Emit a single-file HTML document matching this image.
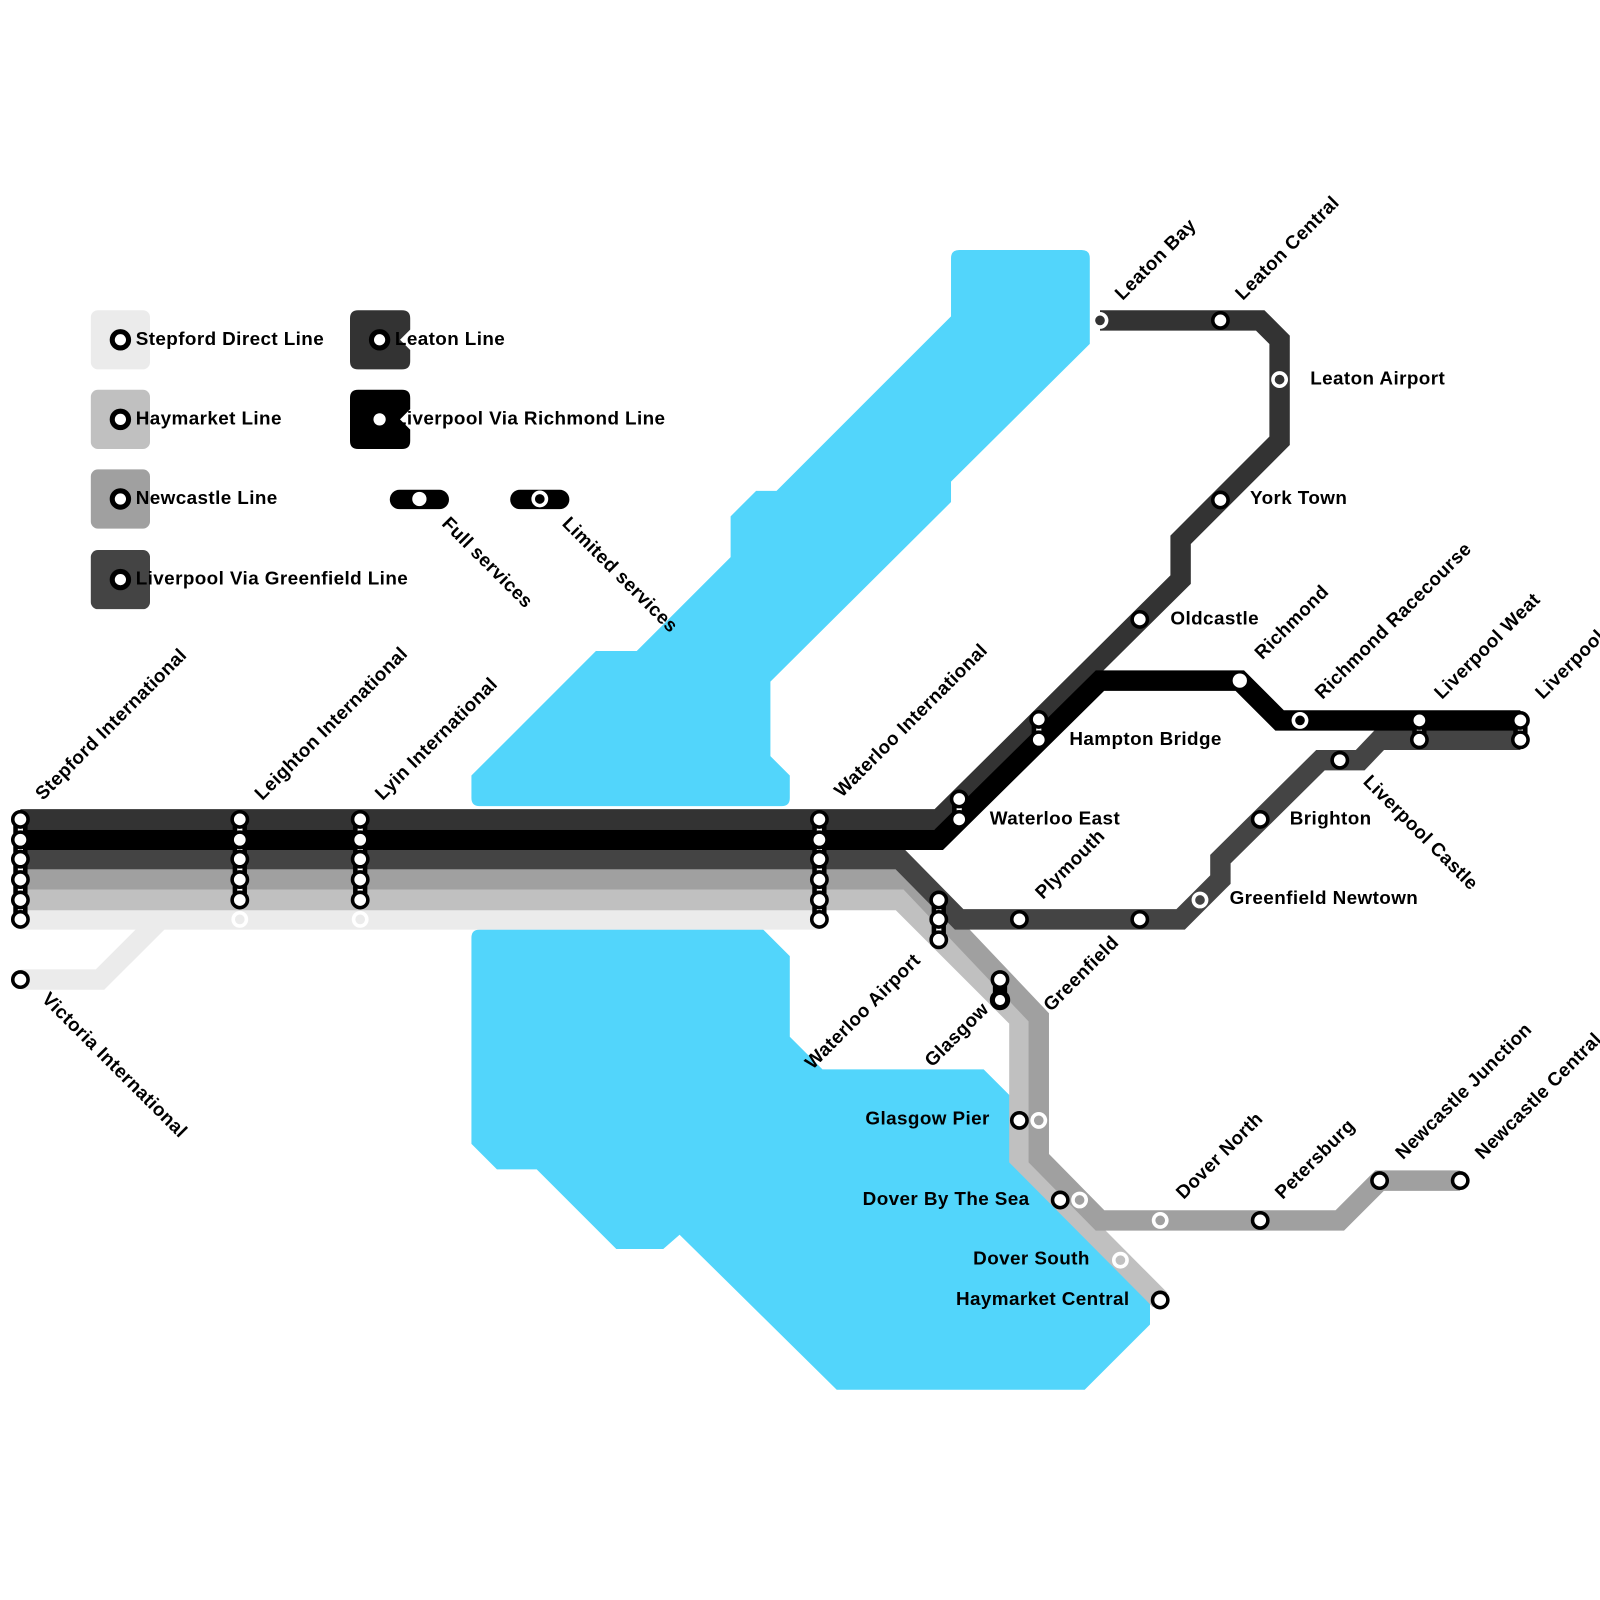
<!DOCTYPE html>
<html><head><meta charset="utf-8"><style>
html,body{margin:0;padding:0;background:#fff;}
svg{display:block;}
text{font-family:"Liberation Sans",sans-serif;font-weight:bold;font-size:18.5px;letter-spacing:0.4px;fill:#000;}
</style></head><body>
<svg width="1600" height="1600" viewBox="0 0 1568 1568" xmlns="http://www.w3.org/2000/svg">
<g fill="#52d5fb">
<path d="M940,245 H1060 Q1068,245 1068,253 V337 L932,472 V492 L755,668 V741 L774,760 V782 Q774,790 766,790 H470 Q462,790 462,782 V760 L584,638 H624 L716,546 V506 L741,481 H761 L932,310 V253 Q932,245 940,245 Z"/>
<path d="M470,911 H748 L774,937 V1016 L806,1048 H964 L990,1074 V1135 L1127,1274 V1298 L1063,1362 H820 L666,1210 L650,1224 H604 L526,1146 H487 L462,1121 V919 Q462,911 470,911 Z"/>
</g>
<g fill="none" stroke-width="20" stroke-linejoin="miter">
<path d="M157,901 L98,960 H20" stroke="#ebebeb"/>
<path d="M20,901 H803" stroke="#ebebeb"/>
<path d="M20,882 H882 L999,999 V1135 L1137,1274" stroke="#c0c0c0"/>
<path d="M20,862 H890 L1018,997 V1135 L1078,1196 H1313 L1352,1157 H1431" stroke="#a0a0a0"/>
<path d="M20,842 H882 L940,901 H1157 L1196,862 V842 L1294,745 H1333 L1352,725 H1490" stroke="#444"/>
<path d="M20,803 H920 L1157,568 V529 L1254,432 V333 L1235,314 H1078" stroke="#333"/>
<path d="M20,823 H920 L1078,667 H1215 L1254,706 H1490" stroke="#000"/>
</g>
<g stroke="#000" stroke-width="14" stroke-linecap="round">
<line x1="20" y1="803" x2="20" y2="901"/><line x1="235" y1="803" x2="235" y2="882"/><line x1="353" y1="803" x2="353" y2="882"/><line x1="803" y1="803" x2="803" y2="901"/>
<line x1="920" y1="882" x2="920" y2="921"/><line x1="940" y1="783" x2="940" y2="803"/><line x1="1018" y1="705" x2="1018" y2="725"/><line x1="1391" y1="706" x2="1391" y2="725"/><line x1="1490" y1="706" x2="1490" y2="725"/><line x1="980" y1="960" x2="980" y2="980"/>
</g>
<g stroke="#fff" stroke-width="5">
<line x1="20" y1="803" x2="20" y2="901"/><line x1="235" y1="803" x2="235" y2="882"/><line x1="353" y1="803" x2="353" y2="882"/><line x1="803" y1="803" x2="803" y2="901"/>
<line x1="920" y1="882" x2="920" y2="921"/><line x1="940" y1="783" x2="940" y2="803"/><line x1="1018" y1="705" x2="1018" y2="725"/><line x1="1391" y1="706" x2="1391" y2="725"/><line x1="1490" y1="706" x2="1490" y2="725"/>
</g>
<g fill="#fff" stroke="#000" stroke-width="3.5">
<circle cx="20" cy="803" r="7.5"/><circle cx="20" cy="823" r="7.5"/><circle cx="20" cy="842" r="7.5"/><circle cx="20" cy="862" r="7.5"/><circle cx="20" cy="882" r="7.5"/><circle cx="20" cy="901" r="7.5"/><circle cx="20" cy="960" r="7.5"/>
<circle cx="235" cy="803" r="7.5"/><circle cx="235" cy="823" r="7.5"/><circle cx="235" cy="842" r="7.5"/><circle cx="235" cy="862" r="7.5"/><circle cx="235" cy="882" r="7.5"/>
<circle cx="353" cy="803" r="7.5"/><circle cx="353" cy="823" r="7.5"/><circle cx="353" cy="842" r="7.5"/><circle cx="353" cy="862" r="7.5"/><circle cx="353" cy="882" r="7.5"/>
<circle cx="803" cy="803" r="7.5"/><circle cx="803" cy="823" r="7.5"/><circle cx="803" cy="842" r="7.5"/><circle cx="803" cy="862" r="7.5"/><circle cx="803" cy="882" r="7.5"/><circle cx="803" cy="901" r="7.5"/>
<circle cx="920" cy="882" r="7.5"/><circle cx="920" cy="901" r="7.5"/><circle cx="920" cy="921" r="7.5"/>
<circle cx="940" cy="783" r="7.5"/><circle cx="940" cy="803" r="7.5"/>
<circle cx="1018" cy="705" r="7.5"/><circle cx="1018" cy="725" r="7.5"/>
<circle cx="999" cy="901" r="7.5"/><circle cx="1117" cy="901" r="7.5"/>
<circle cx="980" cy="960" r="7.5"/><circle cx="980" cy="980" r="7.5" stroke-width="5"/>
<circle cx="999" cy="1098" r="7.5"/><circle cx="1039" cy="1176" r="7.5"/><circle cx="1137" cy="1274" r="7.5"/>
<circle cx="1235" cy="1196" r="7.5"/><circle cx="1352" cy="1157" r="7.5"/><circle cx="1431" cy="1157" r="7.5"/>
<circle cx="1196" cy="314" r="7.5"/><circle cx="1196" cy="490" r="7.5"/><circle cx="1117" cy="607" r="7.5"/>
<circle cx="1235" cy="803" r="7.5"/><circle cx="1313" cy="745" r="7.5"/>
<circle cx="1391" cy="706" r="7.5"/><circle cx="1391" cy="725" r="7.5"/><circle cx="1490" cy="706" r="7.5"/><circle cx="1490" cy="725" r="7.5"/>
</g>
<circle cx="1215" cy="667" r="7" fill="#fff"/>
<g stroke="#fff" stroke-width="3.5">
<circle cx="235" cy="901" r="6.5" fill="#ebebeb"/><circle cx="353" cy="901" r="6.5" fill="#ebebeb"/>
<circle cx="1078" cy="314" r="6.5" fill="#333"/><circle cx="1254" cy="372" r="6.5" fill="#333"/>
<circle cx="1274" cy="706" r="6.5" fill="#000"/><circle cx="1176" cy="882" r="6.5" fill="#444"/>
<circle cx="1018" cy="1098" r="6.5" fill="#a0a0a0"/><circle cx="1058" cy="1176" r="6.5" fill="#a0a0a0"/><circle cx="1137" cy="1196" r="6.5" fill="#a0a0a0"/><circle cx="1098" cy="1235" r="6.5" fill="#c0c0c0"/>
</g>
<rect x="89" y="304" width="58" height="58" rx="7" fill="#ebebeb"/>
<rect x="89" y="382" width="58" height="58" rx="7" fill="#c0c0c0"/>
<rect x="89" y="460" width="58" height="58" rx="7" fill="#a0a0a0"/>
<rect x="89" y="539" width="58" height="58" rx="7" fill="#444"/>
<path d="M351,304 H394 Q402,304 402,312 V323 L392,333 L402,343 V354 Q402,362 394,362 H351 Q343,362 343,354 V312 Q343,304 351,304 Z" fill="#333"/>
<path d="M351,382 H394 Q402,382 402,390 V401 L392,411 L402,421 V432 Q402,440 394,440 H351 Q343,440 343,432 V390 Q343,382 351,382 Z" fill="#000"/>
<g fill="#fff" stroke="#000" stroke-width="5">
<circle cx="118" cy="333" r="8"/><circle cx="118" cy="411" r="8"/><circle cx="118" cy="489" r="8"/><circle cx="118" cy="568" r="8"/><circle cx="372" cy="333" r="8"/>
</g>
<circle cx="372" cy="411" r="6" fill="#fff"/>
<rect x="382" y="480" width="58" height="19" rx="9.5" fill="#000"/><circle cx="411" cy="489" r="7" fill="#fff"/>
<rect x="500" y="480" width="58" height="19" rx="9.5" fill="#000"/><circle cx="529" cy="489" r="6.5" fill="#000" stroke="#fff" stroke-width="3.5"/>
<text x="133" y="338">Stepford Direct Line</text>
<text x="133" y="416">Haymarket Line</text>
<text x="133" y="494">Newcastle Line</text>
<text x="133" y="573">Liverpool Via Greenfield Line</text>
<text x="387" y="338">Leaton Line</text>
<text x="387" y="416">Liverpool Via Richmond Line</text>
<text transform="translate(432,514) rotate(45)">Full services</text>
<text transform="translate(550,514) rotate(45)">Limited services</text>
<g>
<text transform="translate(42,785) rotate(-45)">Stepford International</text>
<text transform="translate(257,785) rotate(-45)">Leighton International</text>
<text transform="translate(375,785) rotate(-45)">Lyin International</text>
<text transform="translate(825,782) rotate(-45)">Waterloo International</text>
<text transform="translate(1022,882) rotate(-45)">Plymouth</text>
<text transform="translate(1030,992) rotate(-45)">Greenfield</text>
<text transform="translate(1160,1176) rotate(-45)">Dover North</text>
<text transform="translate(1257,1176) rotate(-45)">Petersburg</text>
<text transform="translate(1375,1137) rotate(-45)">Newcastle Junction</text>
<text transform="translate(1453,1137) rotate(-45)">Newcastle Central</text>
<text transform="translate(1100,295) rotate(-45)">Leaton Bay</text>
<text transform="translate(1218,295) rotate(-45)">Leaton Central</text>
<text transform="translate(1237,647) rotate(-45)">Richmond</text>
<text transform="translate(1296,686) rotate(-45)">Richmond Racecourse</text>
<text transform="translate(1413,686) rotate(-45)">Liverpool Weat</text>
<text transform="translate(1512,686) rotate(-45)">Liverpool Central</text>
<text text-anchor="end" transform="translate(903,942) rotate(-45)">Waterloo Airport</text>
<text text-anchor="end" transform="translate(970,990) rotate(-45)">Glasgow</text>
<text transform="translate(40,980) rotate(45)">Victoria International</text>
<text transform="translate(1335,767) rotate(45)">Liverpool Castle</text>
</g>
<text x="1284" y="377">Leaton Airport</text>
<text x="1225" y="494">York Town</text>
<text x="1147" y="612">Oldcastle</text>
<text x="1048" y="730">Hampton Bridge</text>
<text x="970" y="808">Waterloo East</text>
<text x="1264" y="808">Brighton</text>
<text x="1205" y="886">Greenfield Newtown</text>
<text x="970" y="1102" text-anchor="end">Glasgow Pier</text>
<text x="1009" y="1181" text-anchor="end">Dover By The Sea</text>
<text x="1068" y="1239" text-anchor="end">Dover South</text>
<text x="1107" y="1279" text-anchor="end">Haymarket Central</text>
</svg>
</body></html>
